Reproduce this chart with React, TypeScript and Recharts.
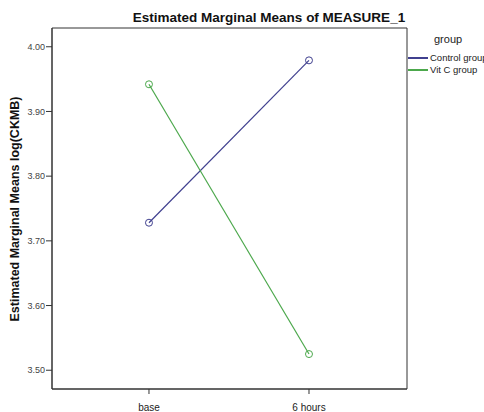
import React from 'react';
import { LineChart, Line, XAxis, YAxis, Legend, ReferenceArea } from 'recharts';

const categories = ['base', '6 hours'];
const controlGroup = [3.728, 3.979];
const vitCGroup = [3.942, 3.525];
const yTicks = [3.5, 3.6, 3.7, 3.8, 3.9, 4.0];
const seriesNames = ['Control group', 'Vit C group'];
const seriesColors = ['#40408f', '#4ca84c'];

const data = categories.map((c, i) => ({ x: i, name: c, control: controlGroup[i], vitc: vitCGroup[i] }));

const X_DOMAIN: [number, number] = [-0.606, 1.6125];
const Y_DOMAIN: [number, number] = [3.471, 4.029];

const LegendContent = () => (
  <div style={{ fontFamily: 'Arial, "Liberation Sans", sans-serif', color: '#222', whiteSpace: 'nowrap' }}>
    <div style={{ fontSize: 11, lineHeight: '13px', marginLeft: 26, marginBottom: 6 }}>group</div>
    {seriesNames.map((n, i) => (
      <div key={n} style={{ display: 'flex', alignItems: 'center', fontSize: 9.5, height: 12, lineHeight: '12px' }}>
        <span style={{ display: 'inline-block', width: 20, height: 2, background: seriesColors[i], marginRight: 2 }} />
        <span>{n}</span>
      </div>
    ))}
  </div>
);

export default function App() {
  const font = 'Arial, "Liberation Sans", sans-serif';
  return (
    <div style={{ position: 'absolute', left: 0, top: 0, width: 484, height: 412, background: '#fff', overflow: 'hidden' }}>
      <div style={{ position: 'absolute', left: 0, width: 538, top: 10, textAlign: 'center', fontFamily: font, fontWeight: 'bold', fontSize: 13.5, color: '#111' }}>
        Estimated Marginal Means of MEASURE_1
      </div>
      <div style={{ position: 'absolute', left: 15, top: 209, width: 0, height: 0 }}>
        <div style={{ position: 'absolute', transform: 'translate(-50%, -50%) rotate(-90deg)', whiteSpace: 'nowrap', fontFamily: font, fontWeight: 'bold', fontSize: 12.5, color: '#111' }}>
          Estimated Marginal Means log(CKMB)
        </div>
      </div>
      <LineChart width={484} height={412} data={data} margin={{ top: 28, right: 77, bottom: 0, left: 12 }}>
        <XAxis
          dataKey="x"
          type="number"
          domain={X_DOMAIN}
          allowDataOverflow
          ticks={[0, 1]}
          tickFormatter={(v: number) => categories[v]}
          height={23}
          tickSize={5}
          tickMargin={10}
          stroke="#333"
          tick={{ fill: '#222', fontSize: 10, fontFamily: font }}
        />
        <YAxis
          type="number"
          domain={Y_DOMAIN}
          allowDataOverflow
          ticks={yTicks}
          tickFormatter={(v: number) => v.toFixed(2)}
          width={40}
          tickSize={6}
          tickMargin={1}
          stroke="#333"
          tick={{ fill: '#444', fontSize: 9, fontFamily: font }}
        />
        <ReferenceArea x1={X_DOMAIN[0]} x2={X_DOMAIN[1]} y1={Y_DOMAIN[0]} y2={Y_DOMAIN[1]} fill="none" stroke="#333" strokeWidth={1} fillOpacity={0} />
        <Legend
          layout="vertical"
          align="center"
          verticalAlign="middle"
          wrapperStyle={{ left: 408, top: 33, width: 90 }}
          content={LegendContent}
        />
        <Line dataKey="control" name={seriesNames[0]} stroke={seriesColors[0]} strokeWidth={1.2} dot={{ r: 3.5, fill: 'none', stroke: seriesColors[0], strokeWidth: 1 }} isAnimationActive={false} />
        <Line dataKey="vitc" name={seriesNames[1]} stroke={seriesColors[1]} strokeWidth={1.2} dot={{ r: 3.5, fill: 'none', stroke: seriesColors[1], strokeWidth: 1 }} isAnimationActive={false} />
      </LineChart>
    </div>
  );
}
